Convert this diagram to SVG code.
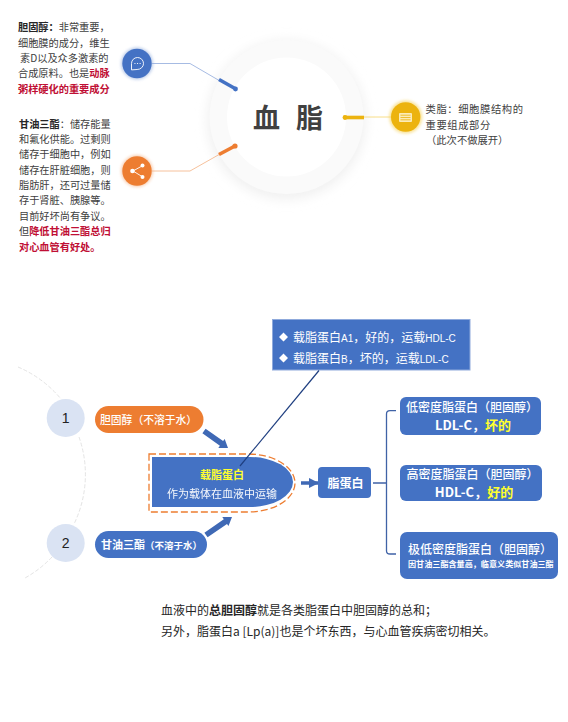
<svg xmlns="http://www.w3.org/2000/svg" width="568" height="722" viewBox="0 0 568 722">
<defs>
<filter id="ringShadow" x="-30%" y="-30%" width="160%" height="160%"><feGaussianBlur stdDeviation="6"/></filter>
<filter id="glow" x="-40%" y="-40%" width="180%" height="180%"><feGaussianBlur stdDeviation="1.5"/></filter>
<marker id="ah" viewBox="0 0 10 10" refX="9" refY="5" markerWidth="3" markerHeight="3" orient="auto" markerUnits="strokeWidth"><path d="M0 0L10 5L0 10z" fill="#3F69B5"/></marker>
</defs>
<style>
text{font-family:"Noto Sans CJK SC","Liberation Sans",sans-serif;}
.lat{font-family:"Liberation Sans",sans-serif;}
.d{font-size:10.2px;fill:#404040;}
.r{font-weight:700;fill:#C00F35;}
.k{fill:#262626;font-weight:700;}
.w{fill:#fff;}
.y{fill:#FFFF2E;font-weight:700;}
.t{font-size:12px;fill:#fff;text-anchor:middle;font-weight:500;}
.l{font-size:13px;fill:#fff;text-anchor:middle;font-weight:700;}
.f{fill:#4472C4;}
.ico{fill:none;stroke:#fff;stroke-width:.9;stroke-linecap:round;stroke-linejoin:round;}
.thin{fill:none;stroke-width:.8;}
.thick{fill:none;stroke-width:3.6;stroke-linecap:butt;}
.u{font-size:12px;fill:#262626;}
</style>
<rect width="568" height="722" fill="#fff"/>

<g id="node-center">
<circle cx="286.5" cy="120" r="79" fill="#F0F0F0" filter="url(#ringShadow)"/>
<circle cx="286.5" cy="117" r="77" fill="#FAFAFA"/>
<circle cx="286.5" cy="117" r="59.5" fill="#fff"/>
<text x="253" y="128" font-size="27" font-weight="700" fill="#404040">血</text>
<text x="296" y="128" font-size="27" font-weight="700" fill="#404040">脂</text>
</g>

<g id="connectors">
<path class="thin" d="M152 63.5H190L220 81" stroke="#8FAADC"/>
<path class="thick" d="M219 79.5L235 88.5" stroke="#4472C4"/>
<circle cx="235.5" cy="89" r="2.4" fill="#4472C4"/>
<path class="thin" d="M152 171H190L220 154" stroke="#F4B183"/>
<path class="thick" d="M219 154.5L234 146.5" stroke="#ED7D31"/>
<circle cx="235" cy="146" r="2.6" fill="#ED7D31"/>
<path class="thin" d="M364 117H391" stroke="#F6D66B"/>
<path class="thick" d="M344 117.5H364" stroke="#ECB30F"/>
<circle cx="345" cy="117.5" r="2.4" fill="#ECB30F"/>
<path d="M18 367A113 113 0 0 1 61 399M79 437A113 113 0 0 1 74 524M52 557A113 113 0 0 1 25 578" fill="none" stroke="#E4E4E4" stroke-width="1" stroke-dasharray="4 2"/>
<polygon points="205.6,428.7 223.1,441.1 224.7,438.9 228,448 218.3,447.9 219.9,445.7 202.4,433.3" fill="#3F69B5"/>
<polygon points="204.4,532.7 223.8,519.3 222.3,517.1 232,517 228.500,526.1 227,523.9 207.6,537.3" fill="#3F69B5"/>
<path d="M301 483H318" fill="none" stroke="#3F69B5" stroke-width="3.500" marker-end="url(#ah)"/>
<path d="M373 483H386.500M396 410.700H390Q386.500 410.700 386.500 414V551Q386.500 554 390 554H396" fill="none" stroke="#3F62A6" stroke-width="1.300"/>
</g>

<g id="node-cholesterol">
<text class="d" x="18" y="31"><tspan class="k">胆固醇：</tspan>非常重要，</text>
<text class="d" x="18" y="46.500">细胞膜的成分，维生</text>
<text class="d" x="20" y="61.500">素D以及众多激素的</text>
<text class="d" x="18" y="77">合成原料。也是<tspan class="r">动脉</tspan></text>
<text class="d" x="18" y="92.500"><tspan class="r">粥样硬化的重要成分</tspan></text>
<circle cx="137" cy="63.500" r="16" fill="#8FAADC" opacity=".6" filter="url(#glow)"/>
<circle cx="137" cy="63.500" r="14.700" fill="#4472C4"/>
<path class="ico" d="M131.500 69.500V63.500A6 6 0 1 1 137.500 69.500Z"/>
<path class="ico" d="M134.800 63.500h.3M137.400 63.500h.3M140 63.500h.3"/>
</g>

<g id="node-triglyceride">
<text class="d" x="19" y="127.500"><tspan class="k">甘油三酯</tspan>：储存能量</text>
<text class="d" x="19" y="143">和氟化供能。过剩则</text>
<text class="d" x="19" y="158">储存于细胞中，例如</text>
<text class="d" x="19" y="173.500">储存在肝脏细胞，则</text>
<text class="d" x="19" y="189">脂肪肝，还可过量储</text>
<text class="d" x="19" y="204">存于肾脏、胰腺等。</text>
<text class="d" x="19" y="220">目前好坏尚有争议。</text>
<text class="d" x="19" y="235">但<tspan class="r">降低甘油三酯总归</tspan></text>
<text class="d" x="19" y="250.500"><tspan class="r">对心血管有好处。</tspan></text>
<circle cx="137" cy="171" r="16" fill="#F4B183" opacity=".6" filter="url(#glow)"/>
<circle cx="137" cy="171" r="14.700" fill="#ED7D31"/>
<path class="ico" d="M142 166L133 171L142 176.500"/>
<circle cx="142.500" cy="165.500" r="2" fill="#fff"/><circle cx="132.500" cy="171" r="2.300" fill="#fff"/><circle cx="142.500" cy="177" r="2" fill="#fff"/>
</g>

<g id="node-lipoid">
<circle cx="405.700" cy="117" r="16.500" fill="#F6D66B" opacity=".7" filter="url(#glow)"/>
<circle cx="405.700" cy="117" r="14.700" fill="#ECB30F"/>
<rect x="399" y="113" width="13" height="9" rx="1" fill="#FBEBB8"/>
<path d="M400.500 115.200h10M400.500 117.500h10M400.500 119.800h10" stroke="#ECB30F" stroke-width=".8" fill="none"/>
<text x="425.500" y="113" font-size="10.300" letter-spacing=".6" fill="#404040">类脂：细胞膜结构的</text>
<text x="425.500" y="128.500" font-size="10.300" letter-spacing=".6" fill="#404040">重要组成部分</text>
<text x="426" y="144" font-size="10.300" fill="#404040">（此次不做展开）</text>
</g>

<g id="node-1">
<circle cx="65.700" cy="418" r="19" fill="#DAE3F3"/>
<text x="65.700" y="423" font-size="14" fill="#222" text-anchor="middle" class="lat">1</text>
</g>
<g id="node-2">
<circle cx="65.700" cy="543" r="19" fill="#DAE3F3"/>
<text x="65.700" y="548" font-size="14" fill="#222" text-anchor="middle" class="lat">2</text>
</g>

<g id="node-pill-cholesterol">
<rect x="95" y="406" width="108.500" height="27" rx="13.500" fill="#ED7D31"/>
<text x="100" y="423.500" font-size="10.800" font-weight="500" class="w">胆固醇（不溶于水）</text>
</g>
<g id="node-pill-triglyceride">
<rect x="95" y="531" width="112" height="27" rx="13.500" class="f"/>
<text x="101" y="548.500" font-size="11" font-weight="700" class="w">甘油三酯<tspan font-size="9.500">（不溶于水）</tspan></text>
</g>

<g id="node-apolipoprotein">
<path d="M149 454H248A47 29 0 0 1 248 512H149Z" fill="#fff" stroke="#ED7D31" stroke-width="1.300" stroke-dasharray="7 3"/>
<path d="M152 457H250A43 25 0 0 1 250 507H152Z" class="f"/>
<text x="222" y="479" font-size="11" text-anchor="middle" class="y">载脂蛋白</text>
<text x="222" y="498" font-size="11" text-anchor="middle" class="w" opacity=".95">作为载体在血液中运输</text>
</g>

<g id="node-apo-info">
<rect x="272.500" y="319.500" width="197.500" height="50.500" class="f" stroke="#8FAADC" stroke-width="1"/>
<path d="M283.500 332.500L288 337L283.500 341.500L279 337Z M283.500 353.500L288 358L283.500 362.500L279 358Z" fill="#fff"/>
<text x="293" y="341.500" font-size="12" class="w">载脂蛋白<tspan font-size="10" class="lat">A1</tspan>，好的，运载<tspan font-size="10" class="lat">HDL-C</tspan></text>
<text x="293" y="362.500" font-size="12" class="w">载脂蛋白<tspan font-size="10" class="lat">B</tspan>，坏的，运载<tspan font-size="10" class="lat">LDL-C</tspan></text>
</g>
<path id="connector-apo-info" d="M240 466L319 370.500" fill="none" stroke="#1F3F80" stroke-width="1.200"/>

<g id="node-lipoprotein">
<rect x="318" y="467" width="53" height="31" rx="4" class="f"/>
<text x="345.500" y="487.500" font-size="12" font-weight="700" text-anchor="middle" class="w">脂蛋白</text>
</g>

<g id="node-ldl">
<rect x="400" y="397" width="141" height="38" rx="6" class="f"/>
<text class="t" x="472" y="411.500">低密度脂蛋白（胆固醇）</text>
<text class="l" x="473" y="430">LDL-C，<tspan class="y">坏的</tspan></text>
</g>
<g id="node-hdl">
<rect x="400" y="465" width="142" height="36" rx="6" class="f"/>
<text class="t" x="472.500" y="479">高密度脂蛋白（胆固醇）</text>
<text class="l" x="474" y="497">HDL-C，<tspan class="y">好的</tspan></text>
</g>
<g id="node-vldl">
<rect x="400" y="532" width="158" height="47" rx="7" class="f"/>
<text class="t" x="480" y="553.500">极低密度脂蛋白（胆固醇）</text>
<text x="408" y="567" font-size="8.100" font-weight="700" class="w">因甘油三酯含量高，临意义类似甘油三酯</text>
</g>

<g id="node-note">
<text class="u" x="161" y="615">血液中的<tspan font-weight="700">总胆固醇</tspan>就是各类脂蛋白中胆固醇的总和；</text>
<text class="u" x="161" y="636">另外，脂蛋白a [Lp(a)]也是个坏东西，与心血管疾病密切相关。</text>
</g>
</svg>
